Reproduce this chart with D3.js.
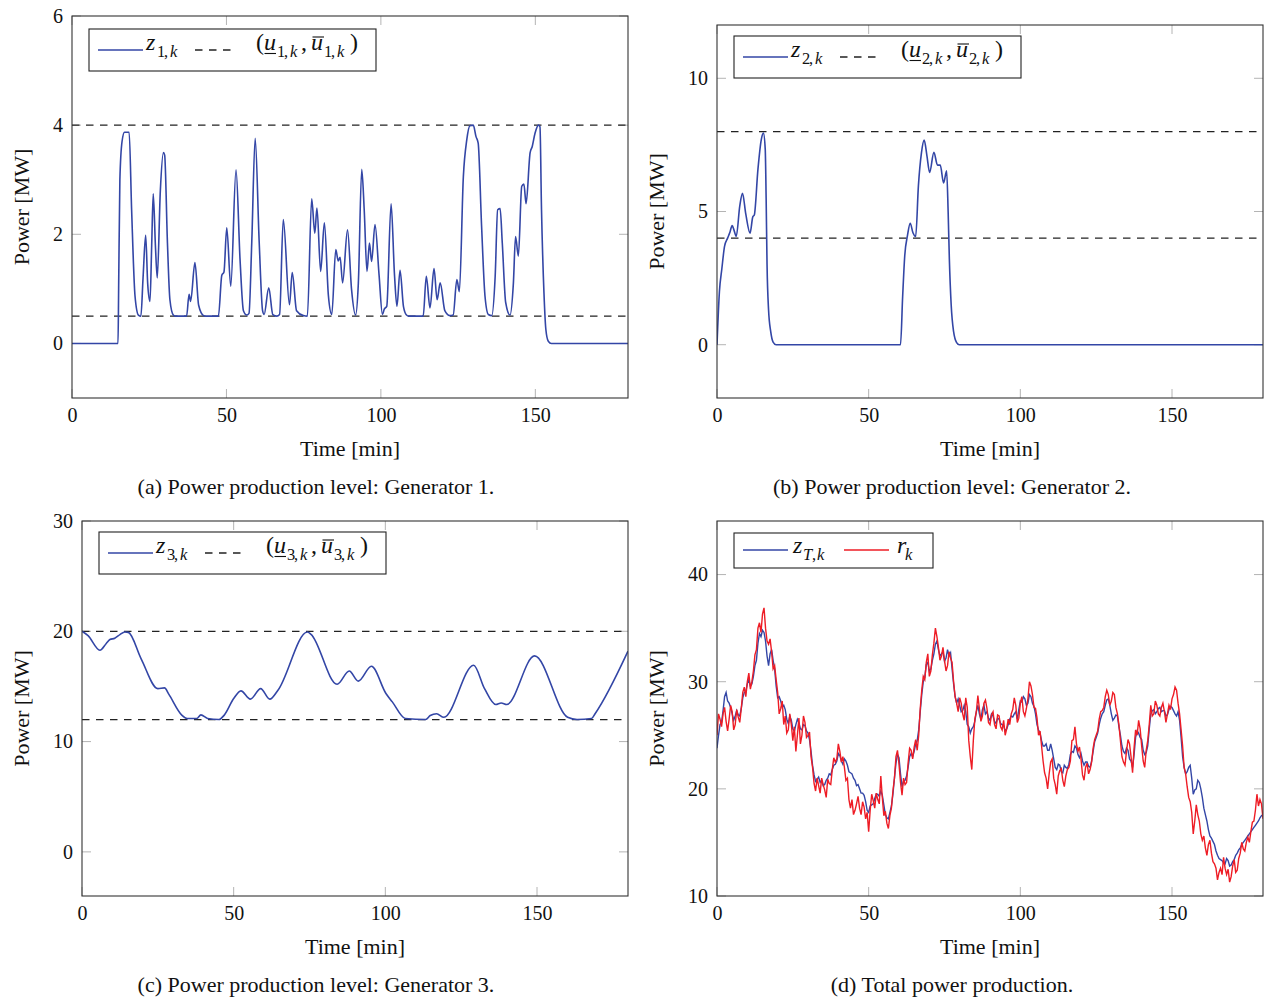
<!DOCTYPE html>
<html><head><meta charset="utf-8">
<script src="https://cdn.jsdelivr.net/npm/d3@7"></script>
<style>
body{margin:0;background:#fff;}
svg text{font-family:"Liberation Serif","Times New Roman",serif;fill:#111;}
</style></head><body>
<svg id="c" width="1270" height="999"></svg>
<script>
// ---------- DATA ----------
const xTicks = [0, 50, 100, 150];
const gen1YTicks = [0, 2, 4, 6];
const gen2YTicks = [0, 5, 10];
const gen3YTicks = [0, 10, 20, 30];
const totYTicks = [10, 20, 30, 40];

const gen1Bounds = [0.5, 4];
const gen2Bounds = [4, 8];
const gen3Bounds = [12, 20];

// generator 1 output z_{1,k}: [time min, MW]
const gen1Z = [[0,0],[14.9,0],[15.1,1.0],[15.5,3.0],[16.2,3.7],[17.0,3.87],[18.5,3.87],[19.3,2.45],[20.4,0.87],[21.5,0.52],[22.3,0.5],
[23.0,1.2],[23.85,1.98],[24.5,1.1],[25.25,0.77],[25.8,1.8],[26.3,2.74],[27.0,1.8],[27.6,1.2],[28.6,2.8],[29.6,3.5],[30.0,3.45],[30.9,1.84],[31.7,0.8],[32.8,0.52],[33.5,0.5],
[37.1,0.5],[37.9,0.9],[38.4,0.77],[39.8,1.48],[41.0,0.7],[42.6,0.51],[43.3,0.5],
[47.4,0.5],[48.5,1.25],[49.2,1.31],[50.1,2.12],[51.4,1.05],[53.1,3.18],[54.4,1.54],[55.5,0.6],[56.6,0.52],
[57.3,0.55],[58.2,1.86],[59.3,3.76],[60.6,1.86],[61.7,0.6],[62.2,0.53],[63.7,1.02],[65.0,0.53],[66.3,0.5],
[67.2,0.53],[68.4,2.27],[70.4,0.71],[71.3,1.3],[72.7,0.6],[74.9,0.51],[76.2,0.5],
[77.6,2.65],[78.6,2.02],[79.3,2.48],[80.5,1.32],[81.7,2.21],[83.0,0.88],[84.1,0.53],
[85.4,1.72],[86.2,1.51],[86.8,1.58],[87.6,1.11],[89.2,2.08],[90.5,0.99],[91.8,0.52],
[92.7,1.1],[93.8,3.19],[94.6,2.45],[95.5,1.32],[96.3,1.84],[97.0,1.5],[98.1,2.18],[99.4,1.26],[100.5,0.53],[101.1,0.63],[101.9,0.68],[103.3,2.56],[104.4,1.26],[105.2,0.68],[106.2,1.34],[107.3,0.68],[108.3,0.52],[109,0.5],
[113.7,0.5],[114.7,1.23],[115.9,0.65],[117.2,1.37],[118.2,0.8],[119.2,1.11],[120.7,0.6],[122.3,0.51],
[123.4,0.52],[124.6,1.17],[125.4,0.95],[126.7,3.06],[127.8,3.73],[128.8,3.99],[129.9,4.0],[130.8,3.79],[131.5,3.67],[132.6,2.15],[133.7,0.87],[134.8,0.53],[135.9,0.51],
[137.0,1.23],[137.8,2.45],[138.6,2.47],[139.3,1.84],[140.4,0.75],[141.8,0.52],
[142.9,1.11],[143.6,1.96],[144.5,1.6],[145.6,2.88],[146.3,2.92],[147.0,2.56],[148.3,3.49],[149.0,3.61],[149.9,3.85],[151.0,4.0],[151.5,3.97],[152.0,2.45],[152.8,0.92],[153.4,0.26],[154.2,0.04],[155.2,0],[180,0]];

// generator 2 output z_{2,k}
const gen2Z = [[0,0],[0.8,2.0],[1.6,2.85],[2.5,3.7],[3.5,4.0],[4.2,4.2],[5.0,4.47],[5.6,4.3],[6.35,4.07],[7.5,5.2],[8.4,5.68],[9.5,4.9],[10.9,4.19],[11.8,4.8],[12.3,4.87],[13.5,6.59],[14.6,7.7],[15.3,7.94],[15.9,7.34],[16.2,5.5],[16.5,3.0],[17.0,1.3],[17.7,0.5],[18.5,0.1],[19.5,0],
[60.5,0],[61.2,1.8],[61.9,3.35],[62.8,4.1],[63.7,4.56],[64.6,4.2],[65.5,4.06],[66.4,5.97],[67.4,7.2],[68.3,7.68],[69.2,7.1],[70.1,6.47],[71.5,7.22],[72.7,6.74],[73.6,6.74],[74.7,6.07],[75.7,6.53],[76.2,5.0],[76.6,3.22],[77.2,1.5],[78.0,0.49],[79.0,0.08],[79.9,0],[180,0]];

// generator 3 output z_{3,k}
const gen3Z = [[0,20.0],[2,19.6],[5.9,18.28],[8,18.9],[9.2,19.25],[10.8,19.37],[12.5,19.7],[14.1,19.94],[15.3,19.9],[19.5,17.5],[25,14.8],[27.2,14.87],[28.6,14.3],[32.9,12.4],[34.7,12.09],[37.8,12.09],[39.2,12.42],[41.4,12.1],[45.1,12.0],[46.9,12.4],[50,13.9],[52.4,14.6],[55.5,13.85],[58.9,14.8],[61.9,13.85],[64.6,14.66],[74.3,19.94],[75.5,19.73],[84.1,15.2],[88.1,16.4],[91.1,15.48],[95.4,16.83],[100.2,14.36],[102.3,13.6],[106.6,12.09],[113.3,12.0],[114.8,12.36],[116.9,12.52],[119.3,12.2],[129.1,16.92],[132.7,14.8],[136.4,13.36],[138.2,13.5],[140,13.36],[149.2,17.77],[160.1,12.2],[163.2,12.0],[168,12.1],[169.2,12.55],[180,18.2]];

// total production z_{T,k} and reference r_k, sampled every 0.5 min (t = 0 .. 180)
const totalZ = [
23.8,25.0,26.0,26.2,27.3,28.6,29.0,28.2,28.0,27.6,27.0,26.4,26.8,27.3,26.9,26.8,27.5,28.5,29.0,29.1,
29.8,30.2,29.6,29.8,30.5,31.5,32.0,33.6,34.5,34.2,34.8,34.6,33.8,32.4,31.5,32.6,33.0,32.0,31.2,29.6,
28.5,28.6,28.2,27.6,27.8,27.4,26.5,26.1,26.8,26.4,25.6,25.4,26.0,26.5,26.2,25.6,25.5,26.0,25.9,25.4,
25.2,24.6,23.5,22.2,21.3,20.7,20.9,21.1,20.6,20.8,20.3,20.4,20.8,21.0,21.4,21.3,21.8,22.2,22.3,22.6,
23.3,23.1,22.6,22.3,22.8,22.6,22.2,21.6,21.5,21.4,21.0,20.8,20.3,20.4,20.0,19.6,19.6,19.4,18.8,18.0,
17.8,18.4,18.5,18.6,19.1,19.5,19.5,19.3,19.8,19.4,18.5,17.6,17.3,17.2,17.8,18.4,19.5,21.0,22.4,23.2,
22.9,21.4,20.2,20.7,20.8,21.2,22.0,23.0,23.3,23.0,23.5,24.2,24.5,25.5,27.2,28.8,30.0,30.4,31.6,31.8,
31.0,31.2,32.0,32.6,33.5,33.8,33.0,32.4,32.6,32.8,31.9,32.2,33.0,32.4,32.7,31.2,29.8,28.6,28.0,28.4,
27.8,27.2,27.3,27.8,27.2,26.0,25.8,25.2,25.6,25.8,26.3,27.2,27.8,27.0,26.5,27.4,27.8,27.0,27.2,26.6,
26.4,27.0,26.8,26.3,26.1,26.6,26.5,26.1,26.0,25.9,25.4,25.6,26.0,26.5,26.8,26.7,27.0,27.2,26.5,27.4,
28.2,28.1,28.6,28.4,27.8,28.0,28.8,28.6,28.0,27.7,27.0,26.0,25.5,25.2,24.5,24.0,24.0,24.2,23.6,23.6,
24.2,23.6,22.8,22.0,21.8,22.3,22.2,21.6,21.5,22.2,22.0,21.9,22.3,23.2,23.5,23.4,24.0,23.8,23.2,22.9,
23.3,22.6,22.2,22.5,22.5,22.1,22.0,22.6,23.5,24.4,24.8,25.2,26.0,26.6,27.0,27.2,27.8,28.3,28.4,27.8,
27.0,26.4,26.6,26.9,26.8,25.8,25.0,24.0,23.5,23.3,23.8,23.6,22.8,22.6,22.0,23.2,24.8,25.4,25.2,24.8,
24.6,23.6,23.2,23.4,24.0,25.6,27.0,27.3,27.4,27.0,27.2,27.5,27.6,27.2,27.3,27.3,26.8,26.9,27.4,27.7,
27.6,27.3,27.0,26.8,27.2,26.4,24.8,23.0,22.0,21.4,21.6,22.0,22.2,21.0,19.5,19.9,20.0,20.8,20.6,20.0,
19.2,18.2,17.6,17.0,16.2,15.6,15.4,15.1,14.8,14.2,13.8,13.5,13.4,13.3,13.1,13.0,13.5,13.3,12.8,12.9,
13.2,13.4,13.8,14.0,14.3,14.5,14.8,15.0,15.2,15.4,15.6,15.8,16.0,16.2,16.4,16.6,16.8,17.0,17.3,17.5,
17.6];

const refR = [
25.0,27.0,26.5,25.8,27.0,27.6,26.3,25.4,26.5,27.8,27.2,25.5,26.0,27.4,26.7,26.2,27.5,29.0,29.5,28.6,
30.0,30.8,29.3,30.0,31.0,32.5,33.0,35.0,35.5,34.6,36.3,36.9,35.0,33.8,33.5,34.0,32.8,31.2,31.5,30.2,
29.0,27.0,27.5,28.2,26.0,26.8,25.2,25.5,27.0,26.0,24.5,25.8,23.5,25.0,26.6,24.2,25.0,26.8,26.2,24.8,
25.0,25.3,23.0,22.0,20.5,19.8,21.0,20.3,19.6,21.0,20.4,19.9,19.2,20.9,20.5,20.4,21.8,22.9,22.5,22.8,
24.2,23.5,22.5,23.0,22.0,20.8,21.0,19.0,18.2,19.0,17.6,18.0,18.6,19.3,18.2,17.6,18.8,18.3,17.2,17.8,
16.0,18.0,19.5,18.9,18.2,19.6,19.0,18.6,21.2,19.2,17.5,17.9,16.8,16.3,17.5,18.2,19.8,21.0,23.0,23.6,
22.3,20.6,19.4,21.0,20.4,20.6,22.4,23.8,23.6,22.8,23.9,24.6,23.6,25.0,27.5,29.2,30.5,30.2,31.8,32.6,
30.5,31.0,32.5,33.6,35.0,34.2,33.2,32.0,32.4,33.2,32.0,31.0,31.5,32.8,32.2,31.8,30.0,28.6,28.0,27.2,
28.5,28.0,27.0,26.4,28.5,27.6,24.5,23.0,21.8,24.5,26.5,27.2,28.7,27.5,26.3,26.8,28.0,28.3,27.5,26.2,
26.0,26.9,27.2,26.0,25.6,26.9,26.8,25.8,25.5,26.4,25.0,25.6,26.5,26.0,27.0,27.4,28.5,27.8,26.2,26.6,
28.0,28.6,27.2,26.8,27.5,28.4,30.0,29.6,28.8,27.6,27.5,26.6,25.0,25.4,24.0,22.6,21.5,21.0,20.0,21.4,
22.5,22.8,21.0,20.4,19.5,21.2,21.7,21.9,20.8,20.2,21.2,21.8,22.0,22.6,24.5,24.6,25.8,24.2,23.5,23.9,
22.8,21.3,20.8,22.0,22.4,21.4,21.8,22.5,23.8,24.6,25.0,25.4,26.5,27.2,27.3,27.6,28.6,29.2,28.8,27.8,
28.2,29.0,28.8,27.6,27.0,26.0,24.5,23.0,22.5,22.2,23.5,24.6,24.2,23.0,21.5,23.8,25.5,25.0,26.4,25.6,
24.0,22.6,22.0,23.6,24.5,26.0,27.8,26.8,27.0,28.2,27.8,27.0,26.8,27.6,28.0,27.2,26.2,27.0,27.8,27.4,
28.4,28.8,29.5,29.2,28.0,27.0,25.5,24.0,22.0,21.4,20.2,19.2,18.8,17.8,15.8,17.0,18.5,17.6,17.0,15.8,
15.2,15.6,14.5,13.8,14.8,15.2,14.0,13.2,13.0,12.6,11.5,12.2,12.6,12.0,13.6,12.6,12.0,12.5,11.3,11.8,
12.8,13.4,12.2,12.4,13.5,14.0,15.0,14.4,14.2,15.0,15.5,15.0,16.0,16.9,17.0,18.0,19.5,18.4,19.0,18.6,
17.2];
const sampleStep = 0.5; // minutes between samples of totalZ / refR

const captions = ["(a) Power production level: Generator 1.","(b) Power production level: Generator 2.","(c) Power production level: Generator 3.","(d) Total power production."];

// ---------- DRAWING ----------
const BLUE = "#3346a6", RED = "#ee1c25", DASH = "7.5,6.5";
const svg = d3.select("#c");

const panels = [
  {id:"a", box:[72,628,16,398], yDom:[-1,6], yTicks:gen1YTicks, capX:316, ylabX:29, lgTop:13},
  {id:"b", box:[717,1263,25,398], yDom:[-2,12], yTicks:gen2YTicks, capX:952, ylabX:664, lgTop:11},
  {id:"c", box:[82,628,521,896], yDom:[-4,30], yTicks:gen3YTicks, capX:316, ylabX:29, lgTop:11},
  {id:"d", box:[717,1263,521,896], yDom:[10,45], yTicks:totYTicks, capX:952, ylabX:664, lgTop:12}
];

function glyphs(g, x0, base, list){
  list.forEach(p=>{
    const fs = p.sub ? 16.5 : 24;
    const yb = base + (p.sub ? 7 : 0);
    const t = g.append("text").attr("x",x0+p.x).attr("y",yb)
      .attr("font-size",fs).attr("font-style",p.it?"italic":"normal").text(p.t);
    const w = t.node().getComputedTextLength();
    if(p.under) g.append("line").attr("x1",x0+p.x+0.5).attr("x2",x0+p.x+w).attr("y1",yb+3.5).attr("y2",yb+3.5).attr("stroke","#111").attr("stroke-width",1.1);
    if(p.over) g.append("line").attr("x1",x0+p.x+1.5).attr("x2",x0+p.x+w+1).attr("y1",yb-13).attr("y2",yb-13).attr("stroke","#111").attr("stroke-width",1.1);
  });
}
function legendBox(g, x0, y0, w, h){
  g.append("rect").attr("x",x0).attr("y",y0).attr("width",w).attr("height",h)
    .attr("fill","#fff").attr("stroke","#222").attr("stroke-width",1.1);
}
function sample(g, x1, x2, y, color, dash){
  g.append("line").attr("x1",x1).attr("x2",x2).attr("y1",y).attr("y2",y)
    .attr("stroke",color).attr("stroke-width",1.3).attr("stroke-dasharray",dash?DASH:null);
}

panels.forEach((P,i)=>{
  const [L,R,T,B] = P.box;
  const x = d3.scaleLinear().domain([0,180]).range([L,R]);
  const y = d3.scaleLinear().domain(P.yDom).range([B,T]);
  const g = svg.append("g");
  const clipId = "clip"+P.id;
  svg.append("clipPath").attr("id",clipId).append("rect").attr("x",L).attr("y",T).attr("width",R-L).attr("height",B-T);

  const tg = g.append("g").attr("stroke","#b4b4b4").attr("stroke-width",1);
  xTicks.forEach(v=>{
    tg.append("line").attr("x1",x(v)).attr("x2",x(v)).attr("y1",B).attr("y2",B-9);
    tg.append("line").attr("x1",x(v)).attr("x2",x(v)).attr("y1",T).attr("y2",T+9);
  });
  P.yTicks.forEach(v=>{
    tg.append("line").attr("x1",L).attr("x2",L+9).attr("y1",y(v)).attr("y2",y(v));
    tg.append("line").attr("x1",R).attr("x2",R-9).attr("y1",y(v)).attr("y2",y(v));
  });

  const ax = g.append("g").attr("transform",`translate(0,${B})`)
    .call(d3.axisBottom(x).tickValues(xTicks).tickSize(0).tickPadding(10).tickFormat(d3.format("d")));
  const ay = g.append("g").attr("transform",`translate(${L},0)`)
    .call(d3.axisLeft(y).tickValues(P.yTicks).tickSize(0).tickPadding(9).tickFormat(d3.format("d")));
  [ax,ay].forEach(a=>{ a.select(".domain").remove(); a.selectAll("text").attr("font-size",20).attr("font-family","Liberation Serif").attr("fill","#111"); });

  const pg = g.append("g").attr("clip-path",`url(#${clipId})`);

  if(P.id!=="d"){
    const data = [gen1Z,gen2Z,gen3Z][i];
    const bounds = [gen1Bounds,gen2Bounds,gen3Bounds][i];
    bounds.forEach(b=>{
      pg.append("line").attr("x1",L).attr("x2",R).attr("y1",y(b)).attr("y2",y(b))
        .attr("stroke","#222").attr("stroke-width",1.2).attr("stroke-dasharray",DASH);
    });
    pg.append("path").datum(data).attr("fill","none").attr("stroke",BLUE).attr("stroke-width",1.6)
      .attr("d", d3.line().x(d=>x(d[0])).y(d=>y(d[1])).curve(d3.curveMonotoneX));
  } else {
    const ln = d3.line().x((d,k)=>x(k*sampleStep)).y(d=>y(d));
    pg.append("path").datum(totalZ).attr("fill","none").attr("stroke",BLUE).attr("stroke-width",1.4).attr("d",ln);
    pg.append("path").datum(refR).attr("fill","none").attr("stroke",RED).attr("stroke-width",1.4).attr("d",ln);
  }

  g.append("rect").attr("x",L).attr("y",T).attr("width",R-L).attr("height",B-T)
    .attr("fill","none").attr("stroke","#333").attr("stroke-width",1.1);

  const lx = L+17, ly = T+P.lgTop;
  const lg = g.append("g");
  if(P.id!=="d"){
    const n = String(i+1);
    legendBox(lg, lx, ly, 287, 42);
    const base = ly+21;
    sample(lg, lx+9, lx+54, ly+21, BLUE, false);
    sample(lg, lx+106, lx+142, ly+21, "#222", true);
    glyphs(lg, lx, base, [
      {t:"z",it:true,x:57},{t:n,sub:true,x:68},{t:",",sub:true,x:75},{t:"k",sub:true,it:true,x:81},
      {t:"(",x:167},{t:"u",it:true,under:true,x:175},{t:n,sub:true,x:188},{t:",",sub:true,x:195},{t:"k",sub:true,it:true,x:201},
      {t:",",x:212},{t:"u",it:true,over:true,x:222},{t:n,sub:true,x:235},{t:",",sub:true,x:242},{t:"k",sub:true,it:true,x:248},
      {t:")",x:261}
    ]);
  } else {
    legendBox(lg, lx, ly, 199, 35);
    const base = ly+20;
    sample(lg, lx+9, lx+54, ly+17, BLUE, false);
    sample(lg, lx+110, lx+155, ly+17, RED, false);
    glyphs(lg, lx, base, [
      {t:"z",it:true,x:59},{t:"T",sub:true,it:true,x:69},{t:",",sub:true,x:78},{t:"k",sub:true,it:true,x:83},
      {t:"r",it:true,x:163},{t:"k",sub:true,it:true,x:171}
    ]);
  }

  svg.append("text").attr("x",(L+R)/2).attr("y",B+58).attr("text-anchor","middle").attr("font-size",22).text("Time [min]");
  svg.append("text").attr("transform",`translate(${P.ylabX},${(T+B)/2}) rotate(-90)`).attr("text-anchor","middle").attr("font-size",22).text("Power [MW]");
  svg.append("text").attr("x",P.capX).attr("y",B+96).attr("text-anchor","middle").attr("font-size",22).text(captions[i]);
});
</script>
</body></html>
